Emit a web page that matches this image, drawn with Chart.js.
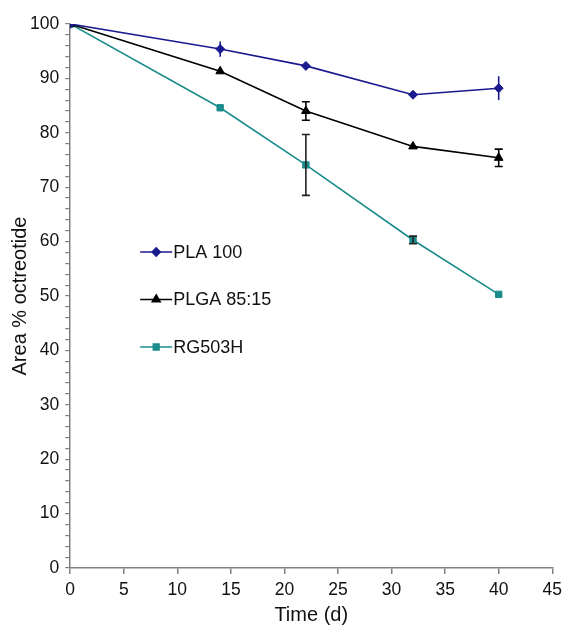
<!DOCTYPE html>
<html>
<head>
<meta charset="utf-8">
<script src="https://cdn.jsdelivr.net/npm/chart.js@4.4.1/dist/chart.umd.min.js"></script>
<style>
html,body{margin:0;padding:0;background:#fff;}
#wrap{width:568px;height:629px;}
</style>
</head>
<body>
<div id="wrap"><canvas id="c" width="568" height="629"></canvas></div>
<script>
const timeDays = [0, 14, 22, 32, 40];
const seriesNames = ["PLA 100", "PLGA 85:15", "RG503H"];
const pla100 = [100, 95.4, 92.3, 87.0, 88.2];
const pla100Err = [0, 1.4, 0, 0, 2.2];
const plga8515 = [100, 91.3, 84.0, 77.5, 75.4];
const plga8515Err = [0, 0, 1.7, 0, 1.6];
const rg503h = [100, 84.6, 74.1, 60.3, 50.3];
const rg503hErr = [0, 0, 5.6, 0.7, 0];
const xTicks = [0, 5, 10, 15, 20, 25, 30, 35, 40, 45];
const yTicks = [0, 10, 20, 30, 40, 50, 60, 70, 80, 90, 100];

const FONT = "'Liberation Sans', Arial, sans-serif";

function pts(vals){ return timeDays.map((t,i)=>({x:t,y:vals[i]})); }

const styles = [
  {color:'#1a1a8f', point:'rectRot', radius:4.5, err:'#1a1a8f', cap:0},
  {color:'#000000', point:'triangle', radius:5, err:'#000000', cap:4},
  {color:'#1a8c8c', point:'rect', radius:4.5, err:'#222222', cap:4}
];
const valueSets = [pla100, plga8515, rg503h];
const errSets = [pla100Err, plga8515Err, rg503hErr];

const datasets = seriesNames.map((n,i)=>({
  label:n,
  data:pts(valueSets[i]),
  errors:errSets[i],
  borderColor:styles[i].color,
  backgroundColor:styles[i].color,
  pointStyle:styles[i].point,
  pointRadius:styles[i].radius,
  pointBorderWidth:1,
  borderWidth:1.6,
  errColor:styles[i].err,
  capHalf:styles[i].cap,
  tension:0
}));

const errorBars = {
  id:'errorBars',
  afterDatasetsDraw(chart){
    const ctx = chart.ctx, xs = chart.scales.x, ys = chart.scales.y;
    ctx.save();
    chart.data.datasets.forEach(ds=>{
      ds.data.forEach((p,i)=>{
        const e = ds.errors[i];
        if(!e) return;
        const px = xs.getPixelForValue(p.x);
        const y1 = ys.getPixelForValue(p.y+e), y2 = ys.getPixelForValue(p.y-e);
        const c = ds.capHalf;
        ctx.strokeStyle = ds.errColor; ctx.lineWidth = 1.6;
        ctx.beginPath();
        ctx.moveTo(px,y1); ctx.lineTo(px,y2);
        if(c){
          ctx.moveTo(px-c,y1); ctx.lineTo(px+c,y1);
          ctx.moveTo(px-c,y2); ctx.lineTo(px+c,y2);
        }
        ctx.stroke();
      });
    });
    ctx.restore();
  }
};

const legendBox = {
  id:'legendBox',
  afterDraw(chart){
    const ctx = chart.ctx, a = chart.chartArea;
    ctx.save();
    ctx.font = "18px " + FONT;
    ctx.textBaseline = 'middle';
    chart.data.datasets.forEach((ds,i)=>{
      const y = a.top + 228 + i*47.5;
      const x0 = a.left + 70, x1 = a.left + 102;
      ctx.strokeStyle = ds.borderColor; ctx.lineWidth = 1.6;
      ctx.beginPath(); ctx.moveTo(x0,y); ctx.lineTo(x1,y); ctx.stroke();
      ctx.fillStyle = ds.borderColor;
      ctx.beginPath();
      Chart.helpers.drawPoint(ctx,{pointStyle:ds.pointStyle,radius:ds.pointRadius-0.5,borderWidth:1},(x0+x1)/2,y);
      ctx.fill();
      ctx.fillStyle = '#111';
      ctx.fillText(ds.label, x1+1, y+1);
    });
    ctx.restore();
  }
};

new Chart(document.getElementById('c'),{
  type:'line',
  data:{datasets},
  plugins:[errorBars, legendBox],
  options:{
    responsive:false,
    animation:false,
    layout:{padding:{left:0, right:12, top:24, bottom:2}},
    plugins:{legend:{display:false}, tooltip:{enabled:false}},
    scales:{
      x:{
        type:'linear', min:0, max:45,
        afterBuildTicks(s){ s.ticks = xTicks.map(v=>({value:v})); },
        border:{color:'#808080', width:1.5},
        grid:{drawOnChartArea:false, color:'#808080', tickLength:6, lineWidth:1.5},
        ticks:{color:'#111', font:{family:FONT,size:17.5}, padding:6, maxRotation:0, autoSkip:false},
        title:{display:true, text:'Time (d)', color:'#111', font:{family:FONT,size:20}, padding:{top:-4, bottom:0}}
      },
      y:{
        type:'linear', min:0, max:100,
        ticks:{stepSize:2, autoSkip:false, color:'#111', font:{family:FONT,size:17.5}, padding:6,
          callback:(v)=> yTicks.includes(v) ? String(v) : ''},
        border:{color:'#808080', width:1.5},
        grid:{drawOnChartArea:false, color:'#808080', tickLength:5, lineWidth:1.2},
        title:{display:true, text:'Area % octreotide', color:'#111', font:{family:FONT,size:20}, padding:{top:8, bottom:-8}}
      }
    }
  }
});
</script>
</body>
</html>
